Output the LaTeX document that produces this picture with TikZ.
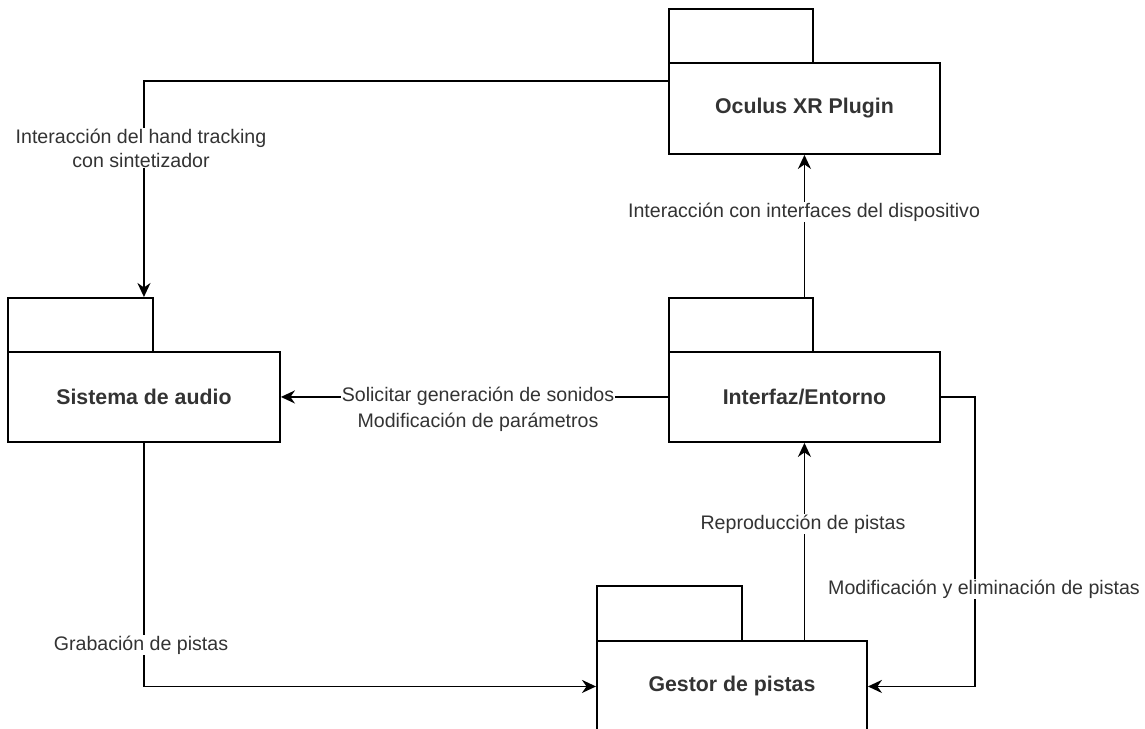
\documentclass[tikz,border=0pt]{standalone}
\usepackage{fontspec}
\setmainfont{Liberation Sans}
\usetikzlibrary{arrows.meta,calc}
\begin{document}
\begin{tikzpicture}[x=1pt,y=-1pt,
  box/.style={draw=black, line width=1.9pt, fill=white, inner sep=0pt, anchor=north west,
    font=\fontsize{21.3}{26}\selectfont\bfseries, text=black!80},
  tabbox/.style={draw=black, line width=1.9pt, fill=white, inner sep=0pt, anchor=north west,
    minimum width=144pt, minimum height=54pt},
  conn/.style={draw=black, line width=1.9pt, -{Stealth[length=14pt,width=13pt,inset=4.5pt]}},
  lbl/.style={fill=white, inner sep=1pt, font=\fontsize{19.6}{24}\selectfont, text=black!80, align=center},
]
\useasboundingbox (0,0) rectangle (1145,728);

% packages
\node[tabbox] (octab) at (668,8) {};
\node[box, minimum width=271pt, minimum height=91pt] (oc) at (668,62) {Oculus XR Plugin};

\node[tabbox] (ietab) at (668,297) {};
\node[box, minimum width=271pt, minimum height=90pt] (ie) at (668,351) {Interfaz/Entorno};

\node[tabbox, minimum width=145pt] (satab) at (7,297) {};
\node[box, minimum width=272pt, minimum height=90pt] (sa) at (7,351) {Sistema de audio};

\node[tabbox, minimum width=145pt, minimum height=55pt] (getab) at (596,585) {};
\node[box, minimum width=270pt, minimum height=91pt] (ge) at (596,640) {Gestor de pistas};

\coordinate (bend5) at (975,396);

% connectors
\draw[conn] ($(oc.north west)+(0,19)$) -| (sa.north |- satab.north);
\draw[conn] (ie.north |- ietab.north) -- (oc.south);
\draw[conn] (ie.west) -- (sa.east);
\draw[conn] (ge.north -| ie.south) -- (ie.south);
\draw[conn] (ie.east) -- (ie.east -| bend5) -- (bend5 |- ge.east) -- (ge.east);
\draw[conn] (sa.south) |- (ge.west);

% labels
\node[lbl] (l1) at (141,148) {Interacción del hand tracking\\con sintetizador};
\node[lbl] (l2) at (804,212) {Interacción con interfaces del dispositivo};
\node[lbl, font=\fontsize{19.6}{26}\selectfont] (l3) at (478,409) {Solicitar generación de sonidos\\Modificación de parámetros};
\node[lbl] (l4) at (803,524) {Reproducción de pistas};
\node[lbl] (l5) at (984,589) {Modificación y eliminación de pistas};
\node[lbl] (l6) at (141,645) {Grabación de pistas};
\end{tikzpicture}
\end{document}
